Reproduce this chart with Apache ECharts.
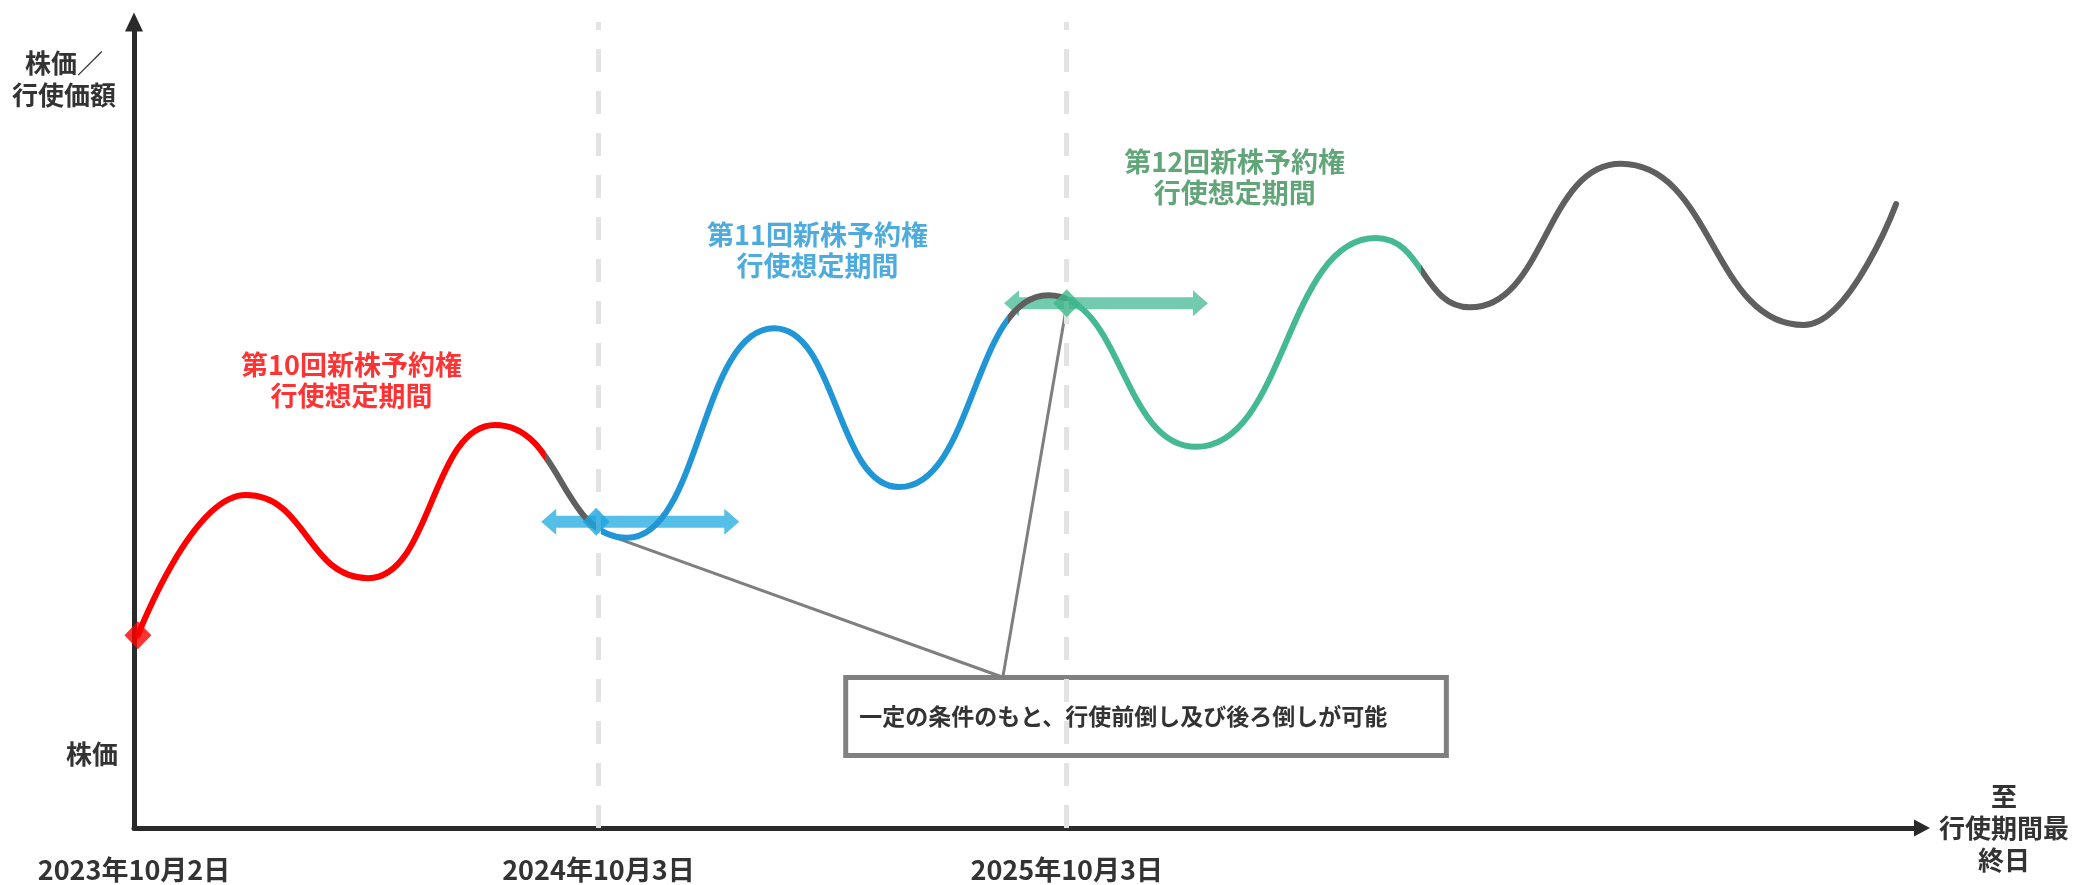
<!DOCTYPE html>
<html>
<head>
<meta charset="utf-8">
<script src="https://cdn.jsdelivr.net/npm/echarts@6/dist/echarts.min.js"></script>
<style>
html,body{margin:0;padding:0;background:#ffffff;}
#c{width:2073px;height:885px;}
</style>
</head>
<body>
<div id="c"></div>
<script>
// ---- data (x: months from 2023年10月2日, y: relative price level) ----
const curveX = [0.1, 2.89, 6.05, 9.33, 12.74, 16.54, 19.77, 23.62, 27.44, 32.09, 34.52, 38.42, 43.15, 45.53];
const curveY = [23.9, 41.3, 31.0, 50.0, 36.0, 62.0, 42.3, 66.1, 47.3, 73.2, 64.6, 82.4, 62.4, 77.4];

const sectionBreaks = [10.62, 11.94, 22.58, 24.1, 33.26];

const diamondX = [0.1, 11.94, 24.1];
const diamondY = [23.9, 38.0, 65.1];

const arrowFrom = [10.52, 22.48];
const arrowTo = [15.64, 27.75];
const arrowY = [38.0, 65.1];

const calloutX = [12.04, 22.45, 24.08];
const calloutY = [36.7, 18.7, 64.3];
const boxX = [18.39, 33.91];
const boxY = [18.67, 8.99];
const calloutText = '一定の条件のもと、行使前倒し及び後ろ倒しが可能';

const periodStarts = [12, 24.1];
const dateTicks = [0, 12, 24.1];
const dateLabels = ['2023年10月2日', '2024年10月3日', '2025年10月3日'];

const titleX = [5.62, 17.66, 28.44];
const titleY = [55.55, 71.7, 80.8];
const titleText = ['第10回新株予約権\n行使想定期間', '第11回新株予約権\n行使想定期間', '第12回新株予約権\n行使想定期間'];

const xMax = 46.2;
const yMax = 100;

// ---- styles ----
const FONT = '"Noto Sans CJK JP", "Noto Sans", sans-serif';
const TXT = '#333333';
const AXIS = '#2a2a2a';
const GRAY = '#5f5f5f';
const sectionColors = ['#ff0000', GRAY, '#2196d6', GRAY, '#45b894', GRAY];
const diamondColors = ['#ff0000', '#1ba6e0', '#3db68c'];
const arrowColors = ['#56bfe8', '#72cbaf'];
const titleColors = ['#ff0000', '#2196d6', '#3a8e57'];

const pieces = [];
for (let i = 0; i <= sectionBreaks.length; i++) {
  const p = { color: sectionColors[i] };
  if (i > 0) p.gt = sectionBreaks[i - 1];
  if (i < sectionBreaks.length) p.lte = sectionBreaks[i];
  pieces.push(p);
}

const chart = echarts.init(document.getElementById('c'), null, { renderer: 'canvas' });

const option = {
  backgroundColor: '#ffffff',
  animation: false,
  textStyle: { fontFamily: FONT },
  grid: { left: 134, right: 151, top: 22, bottom: 57, containLabel: false },
  xAxis: {
    type: 'value', min: 0, max: xMax,
    name: '至\n行使期間最\n終日',
    nameLocation: 'end', nameGap: 82,
    nameTextStyle: { fontFamily: FONT, fontSize: 26, fontWeight: 'bold', color: TXT, lineHeight: 32, align: 'center', verticalAlign: 'middle' },
    axisLine: { show: true, symbol: ['none', 'triangle'], symbolSize: [17, 16], lineStyle: { color: AXIS, width: 5 } },
    axisTick: { show: false },
    splitLine: { show: false },
    axisLabel: {
      show: true, customValues: dateTicks, margin: 28,
      fontFamily: FONT, fontSize: 27, fontWeight: 'bold', color: TXT,
      formatter: v => { const i = dateTicks.findIndex(t => Math.abs(t - v) < 1e-6); return i >= 0 ? dateLabels[i] : ''; }
    }
  },
  yAxis: {
    type: 'value', min: 0, max: yMax,
    axisLine: { show: true, symbol: ['none', 'triangle'], symbolSize: [18, 19], lineStyle: { color: AXIS, width: 5 } },
    axisTick: { show: false }, axisLabel: { show: false }, splitLine: { show: false }
  },
  visualMap: {
    show: false, type: 'piecewise', seriesIndex: 2, dimension: 0, pieces: pieces
  },
  graphic: [
    { type: 'text', left: null, x: 64, y: 79, silent: true,
      style: { text: '株価／\n行使価額', fill: TXT, font: 'bold 26px ' + FONT, lineHeight: 32, align: 'center', verticalAlign: 'middle' } },
    { type: 'text', x: 92, y: 754, silent: true,
      style: { text: '株価', fill: TXT, font: 'bold 26px ' + FONT, align: 'center', verticalAlign: 'middle' } }
  ],
  series: [
    { // period boundaries
      type: 'line', z: 1, silent: true, data: [[0, 0]], symbol: 'none',
      lineStyle: { width: 0, opacity: 0 },
      markLine: {
        silent: true, symbol: 'none', label: { show: false },
        lineStyle: { color: '#e3e3e3', width: 5, type: [23, 19] },
        data: periodStarts.map(v => ({ xAxis: v }))
      }
    },
    { // exercise window arrows
      type: 'custom', z: 2, silent: true,
      data: arrowFrom.map((f, i) => [f, arrowTo[i], arrowY[i], i]),
      encode: { x: [0, 1], y: 2 },
      renderItem: function (params, api) {
        const a = api.coord([api.value(0), api.value(2)]);
        const b = api.coord([api.value(1), api.value(2)]);
        const y = a[1], x0 = a[0], x1 = b[0];
        const sh = 6, hh = 13, hl = 15;
        return {
          type: 'polygon',
          shape: { points: [[x0, y], [x0 + hl, y - hh], [x0 + hl, y - sh], [x1 - hl, y - sh], [x1 - hl, y - hh], [x1, y],
                            [x1 - hl, y + hh], [x1 - hl, y + sh], [x0 + hl, y + sh], [x0 + hl, y + hh]] },
          style: { fill: arrowColors[api.value(3)] }
        };
      }
    },
    { // stock price curve
      type: 'line', z: 4, silent: true,
      data: curveX.map((x, i) => [x, curveY[i]]),
      smooth: 0.5, smoothMonotone: 'x',
      showSymbol: false, symbol: 'none',
      lineStyle: { width: 6, cap: 'round', join: 'round' }
    },
    { // callout leaders + box
      type: 'line', z: 3, silent: true,
      data: calloutX.map((x, i) => [x, calloutY[i]]),
      symbol: 'none', smooth: false,
      lineStyle: { color: '#7f7f7f', width: 3 },
      markArea: {
        silent: true,
        itemStyle: { color: '#ffffff', borderColor: '#808080', borderWidth: 5 },
        label: { show: true, position: 'insideLeft', distance: 16, fontFamily: FONT, fontSize: 23, fontWeight: 'bold', color: TXT },
        data: [[{ name: calloutText, coord: [boxX[0], boxY[0]] }, { coord: [boxX[1], boxY[1]] }]]
      }
    },
    { // start markers
      type: 'scatter', z: 6, silent: true, symbol: 'diamond', symbolSize: [27, 28],
      data: diamondX.map((x, i) => ({ value: [x, diamondY[i]], itemStyle: { color: diamondColors[i] } }))
    },
    { // period titles
      type: 'scatter', z: 6, silent: true, symbolSize: 1,
      itemStyle: { color: 'rgba(0,0,0,0)' },
      data: titleX.map((x, i) => ({
        value: [x, titleY[i]],
        label: { show: true, position: 'inside', formatter: titleText[i], color: titleColors[i],
                 fontFamily: FONT, fontSize: 27, fontWeight: 'bold', lineHeight: 31, align: 'center', verticalAlign: 'middle' }
      }))
    }
  ]
};
chart.setOption(option);
</script>
</body>
</html>
